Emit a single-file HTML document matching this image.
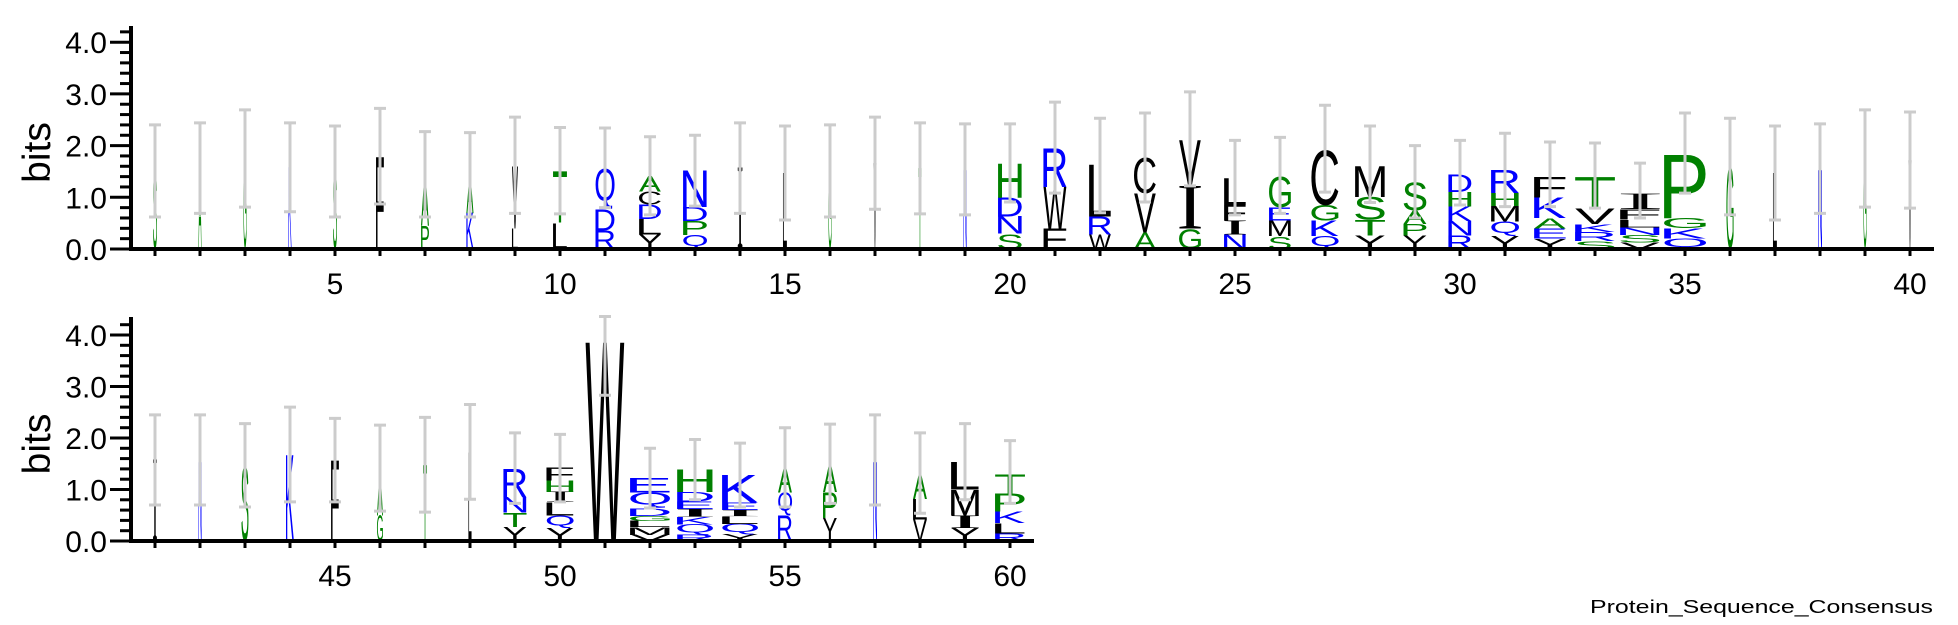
<!DOCTYPE html>
<html><head><meta charset="utf-8"><style>
html,body{margin:0;padding:0;background:#fff;width:1958px;height:625px;overflow:hidden}
svg{display:block}
text{font-family:"Liberation Sans",sans-serif}
</style></head><body>
<svg id="logo" width="1958" height="625" viewBox="0 0 1958 625" xmlns="http://www.w3.org/2000/svg">
<text x="1590" y="613" font-size="18" textLength="343" lengthAdjust="spacingAndGlyphs" fill="#000">Protein_Sequence_Consensus</text>
</svg>
<script>
// ---- data ----
const stacks = ["S","A","G","K","S","F","PA","KA","LV","LT","RDQ","YLDCA","QPDN","I","L","G","V","T","N","SNDH",
"FWR","WRL","AVC","GIV","NIFL","SMEG","QKGC","YTSM","YPAS","RNKHD","YQMHR","YEAKF","SRKVT","VSNLFI","QKGP","G","L","N","G","V",
"I","N","S","K","F","GA","T","L","YTNR","YQLIHF","W","VMLGDQE","RQKIEDH","YQLIEK","RQA","YPA","N","VLA","YIML","RLKPT"];
const heights = [[1.49],[1.56],[1.74],[1.59],[1.5],[1.78],[0.45,1.0],[0.7,0.74],[0.4,1.2],[0.5,1.0],
[0.36,0.41,0.78],[0.28,0.3,0.28,0.25,0.3],[0.27,0.27,0.27,0.7],[1.57],[1.47],[1.49],[1.66],[1.57],[1.53],[0.3,0.33,0.37,0.65],
[0.4,0.8,0.75],[0.28,0.35,1.0],[0.32,0.75,0.7],[0.38,0.82,0.9],[0.28,0.27,0.3,0.52],[0.25,0.3,0.25,0.6],[0.25,0.3,0.3,1.07],[0.26,0.3,0.45,0.6],[0.26,0.22,0.27,0.55],[0.26,0.28,0.28,0.28,0.33],
[0.25,0.28,0.3,0.25,0.45],[0.2,0.2,0.2,0.4,0.4],[0.15,0.18,0.15,0.3,0.6],[0.12,0.15,0.15,0.15,0.2,0.3],[0.2,0.2,0.2,1.22],[1.59],[1.47],[1.53],[1.72],[1.72],
[1.57],[1.53],[1.47],[1.67],[1.57],[0.5,0.9],[1.47],[1.72],[0.27,0.28,0.3,0.55],[0.25,0.25,0.25,0.2,0.22,0.25],
[3.86],[0.12,0.15,0.12,0.1,0.15,0.3,0.28],[0.12,0.2,0.15,0.15,0.15,0.18,0.43],[0.13,0.2,0.15,0.12,0.15,0.53],[0.5,0.44,0.5],[0.45,0.5,0.54],[1.53],[0.42,0.4,0.5],[0.25,0.25,0.5,0.53],[0.15,0.2,0.22,0.35,0.38]];
const occupancy = [0.1,0.08,0.08,0.08,0.1,0.2,0.2,0.18,0.15,0.35,0.48,0.55,0.6,0.12,0.1,0.08,0.08,0.08,0.08,0.6,
0.58,0.55,0.55,0.55,0.55,0.55,0.68,0.75,0.58,0.58,0.7,0.8,1.0,1.0,1.05,0.18,0.1,0.1,0.08,0.08,
0.1,0.08,0.18,0.2,0.2,0.15,0.1,0.08,0.58,0.68,0.98,1.0,0.9,0.9,0.35,0.35,0.1,0.35,0.7,0.75];
const errLow = [0.62,0.69,0.81,0.72,0.62,0.87,0.62,0.62,0.69,0.68,0.8,0.66,0.83,0.69,0.56,0.62,0.77,0.68,0.66,0.91,
1.08,0.7,0.91,1.22,0.66,0.69,1.1,0.9,0.6,0.85,0.82,0.82,0.79,0.6,1.08,0.66,0.56,0.69,0.81,0.79,
0.7,0.7,0.66,0.76,0.76,0.58,0.56,0.81,0.73,0.76,2.83,0.64,0.8,0.66,0.66,0.73,0.7,0.54,0.8,0.73];
const errHigh = [2.4,2.44,2.69,2.44,2.38,2.72,2.27,2.25,2.55,2.35,2.34,2.17,2.2,2.44,2.38,2.4,2.55,2.44,2.42,2.42,
2.84,2.53,2.63,3.04,2.1,2.16,2.78,2.38,2.0,2.1,2.24,2.07,2.05,1.66,2.63,2.53,2.38,2.42,2.69,2.65,
2.45,2.45,2.28,2.6,2.38,2.25,2.4,2.65,2.1,2.07,4.36,1.8,1.97,1.9,2.2,2.27,2.45,2.1,2.28,1.95];
const yTicks = [0,1,2,3,4];
const yTickLabels = ["0.0","1.0","2.0","3.0","4.0"];
const xLabelEvery = 5;

// ---- layout ----
const NS="http://www.w3.org/2000/svg";
const svg=document.getElementById('logo');
const panels=[{first:1,last:40,base:249,scale:51.7,top:26,xEnd:1934},{first:41,last:60,base:541,scale:51.5,top:317,xEnd:1034}];
const axisX=131, x0=155, step=45, fullW=40;
const green=new Set("AGHPST"), blue=new Set("DEKNQR");
function color(c){return green.has(c)?"#008000":blue.has(c)?"#0000ff":"#000000";}
const ctx=document.createElement('canvas').getContext('2d');
function fontFor(c){return c==="I"?'"Liberation Serif"':'"Liberation Sans"';}
function mk(tag,attrs,parent){const e=document.createElementNS(NS,tag);for(const k in attrs)e.setAttribute(k,attrs[k]);(parent||svg).appendChild(e);return e;}

panels.forEach((p,pi)=>{
  const g=mk('g',{});
  
  
  const xOf=i=>x0+(i-p.first)*step;
  const yOf=v=>p.base-v*p.scale;
  for(let i=p.first;i<=p.last;i++){
    const s=stacks[i-1], h=heights[i-1], w=occupancy[i-1]*fullW, cx=xOf(i);
    let acc=0;
    const col=mk('g',{},g);
    
    
    for(let k=0;k<s.length;k++){
      const c=s[k], hh=h[k];
      ctx.font='100px '+fontFor(c);
      const m=ctx.measureText(c);
      const L=m.actualBoundingBoxLeft, R=m.actualBoundingBoxRight, A=m.actualBoundingBoxAscent, D=m.actualBoundingBoxDescent;
      const gw=(R+L)||1, gh=(A+D)||1;
      const sx=w/gw, sy=(hh*p.scale)/gh;
      const yBot=yOf(acc);
      const t=mk('text',{'font-size':100,fill:color(c),style:'font-family:'+fontFor(c)+',sans-serif',
        transform:`translate(${cx-w/2+L*sx},${yBot-D*sy}) scale(${sx},${sy})`},col);
      t.textContent=c;
      
      
      acc+=hh;
    }
  }
  for(let i=p.first;i<=p.last;i++){
    const cx=xOf(i), lo=yOf(errLow[i-1]), hi=yOf(errHigh[i-1]);
    const eb=mk('path',{d:`M${cx},${lo}V${hi}M${cx-6},${lo}H${cx+6}M${cx-6},${hi}H${cx+6}`,stroke:'#cccccc','stroke-width':3,fill:'none'},g);
    
    
  }
  const ya=mk('g',{},g);
  
  
  mk('line',{x1:axisX,x2:axisX,y1:p.top,y2:p.base+2,stroke:'#000','stroke-width':4},ya);
  for(let v=0;v<=4.2001;v+=0.2){
    const major=Math.abs(v-Math.round(v))<1e-6;
    mk('line',{x1:axisX-(major?21:11),x2:axisX,y1:yOf(v),y2:yOf(v),stroke:'#000','stroke-width':3},ya);
  }
  yTicks.forEach((v,k)=>{
    const t=mk('text',{x:107,y:yOf(v)+11,'font-size':30,'text-anchor':'end',fill:'#000'},ya);
    t.textContent=yTickLabels[k];
    
    
  });
  const yt=mk('text',{x:0,y:0,'font-size':39,'text-anchor':'middle',fill:'#000',transform:`translate(50,${(p.top+p.base)/2+15}) rotate(-90)`},ya);
  yt.textContent='bits';
  
  
  const xa=mk('g',{},g);
  
  
  mk('line',{x1:axisX-2,x2:p.xEnd,y1:p.base,y2:p.base,stroke:'#000','stroke-width':4},xa);
  for(let i=p.first;i<=p.last;i++){
    mk('line',{x1:xOf(i),x2:xOf(i),y1:p.base,y2:p.base+7,stroke:'#000','stroke-width':3},xa);
    if(i%xLabelEvery===0){
      const t=mk('text',{x:xOf(i),y:p.base+45,'font-size':30,'text-anchor':'middle',fill:'#000'},xa);
      t.textContent=String(i);
      
      
    }
  }
});
</script>
</body></html>
